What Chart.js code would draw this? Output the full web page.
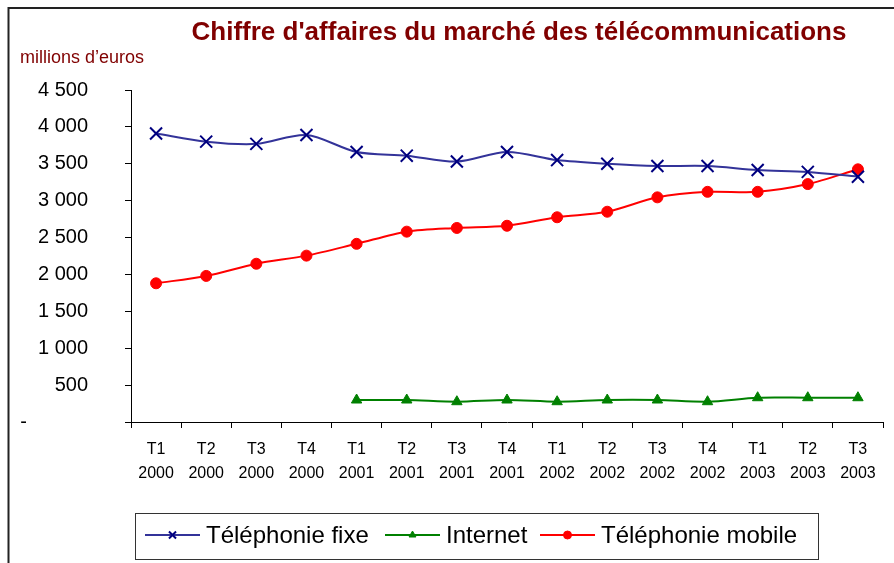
<!DOCTYPE html>
<html lang="fr">
<head>
<meta charset="UTF-8">
<script src="https://cdn.jsdelivr.net/npm/chart.js"></script>
<title>Chiffre d'affaires</title>
<style>
  html, body { margin: 0; padding: 0; background: #fff; }
  #wrap { width: 894px; height: 563px; position: relative; }
</style>
</head>
<body>
<div id="wrap"><canvas id="chartCanvas" width="894" height="563"></canvas></div>
<script>
    // données (millions d'euros)
    const trimestres = ['T1', 'T2', 'T3', 'T4', 'T1', 'T2', 'T3', 'T4', 'T1', 'T2', 'T3', 'T4', 'T1', 'T2', 'T3'];
    const annees = ['2000', '2000', '2000', '2000', '2001', '2001', '2001', '2001', '2002', '2002', '2002', '2002', '2003', '2003', '2003'];
    const telFixe = [3910, 3800, 3770, 3890, 3660, 3610, 3530, 3660, 3550, 3500, 3470, 3470, 3415, 3390, 3325];
    const internet = [null, null, null, null, 298, 298, 275, 298, 275, 298, 298, 275, 329, 329, 329];
    const telMobile = [1880, 1980, 2145, 2255, 2415, 2580, 2630, 2660, 2775, 2850, 3045, 3120, 3120, 3225, 3425];
    const yTicks = [0, 500, 1000, 1500, 2000, 2500, 3000, 3500, 4000, 4500];

    const labels = trimestres.map((t, i) => [t, annees[i]]);
    const police = '"Liberation Sans", Arial, sans-serif';

    function formatNombre(v) {
        if (v === 0) return '-           ';
        return String(v).replace(/\B(?=(\d{3})+(?!\d))/g, ' ');
    }

    // cadre, titre, unité et légende dessinés à la main
    const decorPlugin = {
        id: 'decor',
        afterDraw(chart) {
            const ctx = chart.ctx;
            ctx.save();
            ctx.strokeStyle = '#222';
            ctx.lineWidth = 2;
            ctx.beginPath();
            ctx.moveTo(894, 8);
            ctx.lineTo(8.5, 8);
            ctx.lineTo(8.5, 563);
            ctx.stroke();

            ctx.fillStyle = '#800000';
            ctx.textBaseline = 'middle';
            ctx.font = 'bold 26px ' + police;
            ctx.textAlign = 'center';
            ctx.fillText("Chiffre d'affaires du marché des télécommunications", 519, 33);
            ctx.font = '18px ' + police;
            ctx.textAlign = 'left';
            ctx.fillText('millions d’euros', 20, 58);

            // légende
            ctx.strokeStyle = '#333';
            ctx.lineWidth = 1;
            ctx.strokeRect(135.5, 513.5, 683, 46);
            const starts = [145, 385, 540];
            const tailles = [5, 4, 4];
            ctx.font = '24px ' + police;
            chart.data.datasets.forEach((ds, i) => {
                const x0 = starts[i];
                const y = 535;
                ctx.strokeStyle = ds.borderColor;
                ctx.lineWidth = 2;
                ctx.beginPath();
                ctx.moveTo(x0, y);
                ctx.lineTo(x0 + 55, y);
                ctx.stroke();
                ctx.strokeStyle = ds.pointBorderColor;
                ctx.fillStyle = ds.pointBackgroundColor;
                ctx.lineWidth = ds.pointBorderWidth;
                Chart.helpers.drawPoint(ctx, {
                    pointStyle: ds.pointStyle,
                    radius: tailles[i],
                    borderWidth: ds.pointBorderWidth
                }, x0 + 27.5, y);
                ctx.fillStyle = '#000';
                ctx.fillText(ds.label, x0 + 61, y + 1);
            });
            ctx.restore();
        }
    };

    function plotarGrafico() {
        const dados = {
            labels: labels,
            datasets: [
                {
                    label: 'Téléphonie fixe',
                    data: telFixe,
                    borderColor: '#333399',
                    borderWidth: 2,
                    tension: 0.3,
                    pointStyle: 'crossRot',
                    pointRadius: 8.5,
                    pointBorderWidth: 2,
                    pointBorderColor: '#000080',
                    pointBackgroundColor: '#000080'
                },
                {
                    label: 'Internet',
                    data: internet,
                    borderColor: '#008000',
                    borderWidth: 2,
                    tension: 0.3,
                    pointStyle: 'triangle',
                    pointRadius: 6,
                    pointBorderWidth: 1,
                    pointBorderColor: '#008000',
                    pointBackgroundColor: '#008000'
                },
                {
                    label: 'Téléphonie mobile',
                    data: telMobile,
                    borderColor: '#ff0000',
                    borderWidth: 2,
                    tension: 0.3,
                    pointStyle: 'circle',
                    pointRadius: 5.5,
                    pointBorderWidth: 1,
                    pointBorderColor: '#ff0000',
                    pointBackgroundColor: '#ff0000'
                }
            ]
        };

        const config = {
            type: 'line',
            data: dados,
            options: {
                responsive: false,
                animation: false,
                layout: { padding: { top: 90, right: 11, left: 0, bottom: 0 } },
                plugins: {
                    legend: { display: false },
                    title: { display: false },
                    tooltip: { enabled: false }
                },
                scales: {
                    x: {
                        offset: true,
                        border: { color: '#000', width: 1 },
                        grid: { offset: true, drawOnChartArea: false, color: '#000', tickLength: 6 },
                        ticks: {
                            color: '#000',
                            padding: 10,
                            maxRotation: 0,
                            autoSkip: false,
                            font: { family: police, size: 16, lineHeight: 1.5 }
                        },
                        afterFit(scale) { scale.height = 141; }
                    },
                    y: {
                        min: 0,
                        max: 4500,
                        afterBuildTicks(scale) { scale.ticks = yTicks.map(v => ({ value: v })); },
                        border: { color: '#000', width: 1 },
                        grid: { drawOnChartArea: false, color: '#000', tickLength: 6 },
                        ticks: {
                            color: '#000',
                            padding: 37,
                            callback: v => formatNombre(v),
                            font: { family: police, size: 20 }
                        },
                        afterFit(scale) { scale.width = 131; }
                    }
                }
            },
            plugins: [decorPlugin]
        };

        new Chart(document.getElementById('chartCanvas'), config);
    }

    plotarGrafico();
</script>
</body>
</html>
